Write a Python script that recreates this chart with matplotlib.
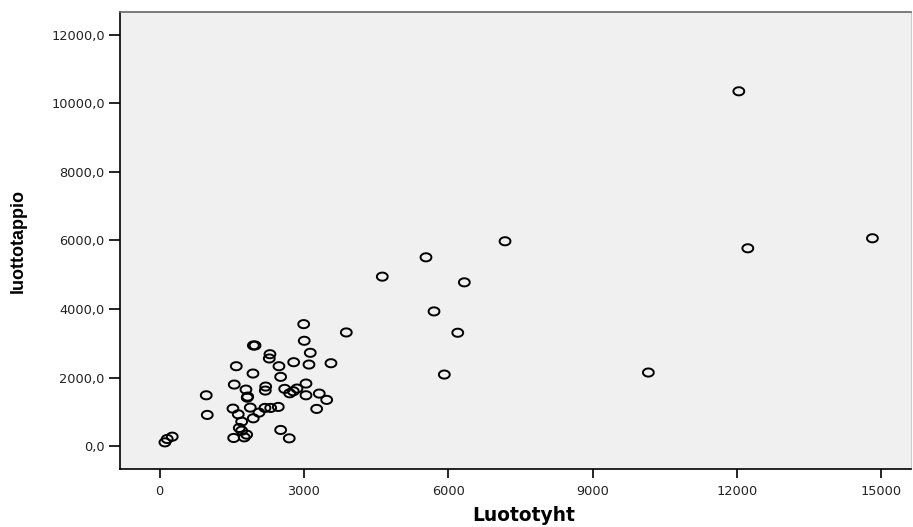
import numpy as np
import matplotlib
matplotlib.use('Agg')
import matplotlib.pyplot as plt
from matplotlib.path import Path
from matplotlib.ticker import FuncFormatter

plt.rcParams['font.family'] = ['Liberation Sans', 'DejaVu Sans']

# Luototyht (x) and luottotappio (y)
luototyht = [12040, 12227, 14817, 7181, 5538, 4630, 6335, 5705, 6198, 5919, 10160,
             1950, 1985, 1595, 1942, 1553, 1796, 1832, 1822, 971, 992, 1526, 1886,
             1636, 1948, 1707, 1657, 1707, 1811, 1761, 1541, 112, 160, 264,
             2996, 3882, 3008, 3133, 2295, 2281, 2482, 2788, 3106, 3563, 2517,
             2206, 2198, 2601, 2705, 2780, 2857, 3044, 3044, 3320, 3474, 3266,
             2067, 2191, 2310, 2468, 2517, 2696]
luottotappio = [10347, 5772, 6064, 5977, 5509, 4946, 4780, 3933, 3311, 2093, 2152,
                2940, 2940, 2336, 2123, 1801, 1655, 1451, 1420, 1489, 917, 1101, 1130,
                934, 818, 721, 537, 458, 342, 263, 245, 117, 216, 283,
                3562, 3320, 3077, 2727, 2686, 2561, 2336, 2453, 2385, 2423, 2026,
                1743, 1626, 1676, 1547, 1606, 1685, 1831, 1489, 1539, 1355, 1092,
                984, 1121, 1121, 1150, 479, 234]

x_ticks = [0, 3000, 6000, 9000, 12000, 15000]
y_ticks = [0, 2000, 4000, 6000, 8000, 10000, 12000]

# slightly flat open circle like the original
t = np.linspace(0, 2 * np.pi, 60)
ellipse = Path(np.column_stack([np.cos(t), 0.75 * np.sin(t)]))

fig = plt.figure(figsize=(9.13, 5.27), dpi=100)
ax = fig.add_axes([0.131, 0.110, 0.867, 0.867])
ax.set_facecolor('#f0f0f0')

ax.scatter(luototyht, luottotappio, marker=ellipse, s=7.8 ** 2,
           facecolors='none', edgecolors='black', linewidths=1.4, zorder=3)

ax.set_xlim(-830, 15622)
ax.set_ylim(-660, 12654)
ax.set_xticks(x_ticks)
ax.set_yticks(y_ticks)
ax.yaxis.set_major_formatter(FuncFormatter(lambda v, p: f'{v:.1f}'.replace('.', ',')))

ax.tick_params(axis='x', length=6.5, width=1.2, pad=5, colors='black')
ax.tick_params(axis='y', length=7.7, width=1.2, pad=3, colors='black')
ax.tick_params(labelcolor='#222222')
# the original text is wide, DejaVu is closer in width than Arial
for lab in ax.get_xticklabels() + ax.get_yticklabels():
    lab.set_fontfamily('DejaVu Sans')
    lab.set_fontsize(9.3)

for side in ['left', 'bottom']:
    ax.spines[side].set_color('black')
    ax.spines[side].set_linewidth(1.2)
ax.spines['top'].set_color('#666666')
ax.spines['top'].set_linewidth(1.2)
ax.spines['right'].set_color('#cccccc')
ax.spines['right'].set_linewidth(0.8)

ax.set_xlabel('Luototyht', fontsize=13.4, fontweight='bold', family='DejaVu Sans')
ax.set_ylabel('luottotappio', fontsize=13, fontweight='bold')
ax.xaxis.set_label_coords(0.510, -0.080)
ax.yaxis.set_label_coords(-0.1171, 0.5)

fig.savefig('out.png', dpi=100, facecolor='white')
